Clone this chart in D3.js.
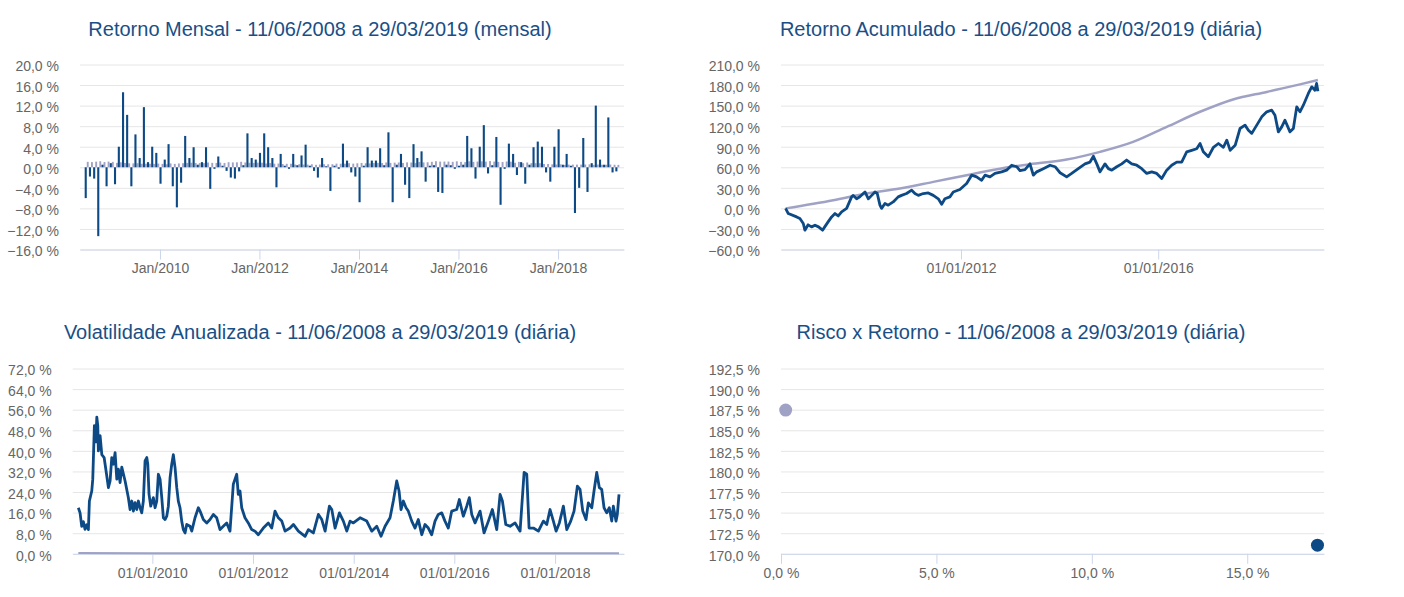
<!DOCTYPE html>
<html>
<head>
<meta charset="utf-8">
<script src="https://cdn.jsdelivr.net/npm/d3@7/dist/d3.min.js"></script>
<style>
  body { margin: 0; background: #ffffff; }
  svg { display: block; }
</style>
</head>
<body>
<svg id="chart" width="1404" height="597"></svg>
<script>
// ---------- Titles ----------
const titles = [
  "Retorno Mensal - 11/06/2008 a 29/03/2019 (mensal)",
  "Retorno Acumulado - 11/06/2008 a 29/03/2019 (diária)",
  "Volatilidade Anualizada - 11/06/2008 a 29/03/2019 (diária)",
  "Risco x Retorno - 11/06/2008 a 29/03/2019 (diária)"
];

// ---------- Monthly returns (%), Jul/2008 .. Mar/2019 ----------
const firstMonth = "2008-07-01";
const fundMonthly = [
  -6.0, -1.8, -2.2, -13.4, 0.5, -3.7,
  0.8, -3.3, 4.0, 14.6, 10.2, -3.7, 6.4, 1.8, 11.7, 1.0, 4.0, 2.8,
  -3.2, 1.5, 4.5, -3.7, -7.8, -3.0, 6.1, 1.8, 3.9, 0.5, 1.0, 3.9,
  -4.2, -0.3, 2.1, 0.3, -0.7, -2.0, -2.2, -0.8, 0.4, 6.6, 1.8, 1.5,
  2.8, 6.6, 3.9, 1.8, -3.9, 2.6, 0.3, -0.3, 2.6, 0.4, 2.3, 4.4,
  0.3, -0.7, -2.0, 1.8, 0.2, -4.6, 0.3, -0.3, 4.6, 1.3, -1.0, -1.8,
  -6.8, 0.3, 3.9, 1.3, 1.3, 3.7, 0.4, 6.8, -6.8, 0.5, 2.6, -3.4,
  -6.0, 4.5, 1.8, 3.1, -2.8, 0.3, 0.4, -4.8, -5.0, 0.5, 0.4, -0.3,
  0.3, 0.5, 6.1, 3.7, -2.2, 4.0, 8.2, -1.2, 0.4, 5.9, -7.3, -0.3,
  4.6, 2.6, -1.5, 1.0, -3.2, 0.5, 3.9, 5.0, 4.0, -1.0, -2.8, 4.0,
  7.4, 0.5, 2.6, 0.3, -8.9, -4.0, 5.7, -4.8, 0.8, 12.0, 1.5, 0.5,
  9.7, -1.0, -0.8
];
const benchMonthly = [
  1.06, 1.01, 1.10, 1.17, 1.01, 1.11,
  1.05, 0.86, 0.97, 0.84, 0.77, 0.76, 0.79, 0.69, 0.69, 0.69, 0.66, 0.72,
  0.66, 0.59, 0.76, 0.66, 0.75, 0.79, 0.86, 0.89, 0.84, 0.81, 0.81, 0.93,
  0.86, 0.84, 0.92, 0.84, 0.99, 0.95, 0.97, 1.07, 0.94, 0.88, 0.86, 0.91,
  0.89, 0.74, 0.81, 0.70, 0.73, 0.64, 0.68, 0.69, 0.54, 0.61, 0.54, 0.53,
  0.59, 0.48, 0.54, 0.60, 0.58, 0.59, 0.71, 0.69, 0.70, 0.80, 0.71, 0.78,
  0.84, 0.78, 0.76, 0.82, 0.86, 0.82, 0.94, 0.86, 0.90, 0.94, 0.84, 0.96,
  0.93, 0.82, 1.04, 0.95, 0.98, 1.06, 1.18, 1.11, 1.11, 1.11, 1.06, 1.16,
  1.05, 1.00, 1.16, 1.05, 1.11, 1.16, 1.11, 1.21, 1.11, 1.05, 1.04, 1.12,
  1.09, 0.87, 1.05, 0.79, 0.93, 0.81, 0.80, 0.80, 0.64, 0.64, 0.57, 0.54,
  0.58, 0.47, 0.53, 0.52, 0.52, 0.52, 0.54, 0.57, 0.47, 0.54, 0.49, 0.49,
  0.54, 0.49, 0.47
];
const monthlyTicksY = [-16, -12, -8, -4, 0, 4, 8, 12, 16, 20];
const monthlyTicksX = ["2010-01-01", "2012-01-01", "2014-01-01", "2016-01-01", "2018-01-01"];

// ---------- Cumulative return (%) ----------
const cumFundDates = [
  "2008-06-11","2008-07-01","2008-09-01","2008-09-25","2008-10-20","2008-11-01","2008-11-25","2008-12-20",
  "2009-01-15","2009-02-10","2009-03-12","2009-03-28","2009-04-22","2009-05-18","2009-06-12","2009-07-06","2009-07-31","2009-09-06","2009-10-13","2009-10-25","2009-11-19","2009-12-13",
  "2010-01-07","2010-01-20","2010-02-14","2010-03-11","2010-04-04","2010-04-21","2010-05-11","2010-05-23","2010-06-17","2010-07-11","2010-08-17","2010-09-23","2010-10-18","2010-11-24",
  "2011-01-01","2011-01-25","2011-02-19","2011-03-28","2011-05-04","2011-06-10","2011-07-17","2011-08-11","2011-09-04","2011-10-11","2011-11-05","2011-12-24",
  "2012-02-12","2012-03-20","2012-04-26","2012-06-02","2012-06-27","2012-08-03","2012-09-09","2012-10-28","2012-12-04",
  "2013-01-11","2013-02-17","2013-03-13","2013-04-19","2013-05-26","2013-06-20","2013-07-15","2013-09-02","2013-10-22","2013-11-28",
  "2014-01-04","2014-02-22","2014-03-31","2014-05-19","2014-07-08","2014-08-14","2014-09-08","2014-10-03","2014-10-27","2014-12-03","2014-12-28",
  "2015-01-22","2015-02-28","2015-04-06","2015-05-12","2015-06-19","2015-07-26","2015-09-01","2015-10-08","2015-11-14","2015-12-21",
  "2016-01-27","2016-03-04","2016-04-10","2016-05-17","2016-06-23","2016-07-30","2016-09-05","2016-10-12","2016-11-06","2016-11-30",
  "2017-01-06","2017-02-13","2017-03-22","2017-04-28","2017-05-23","2017-06-17","2017-07-24","2017-08-29","2017-10-05","2017-10-30","2017-11-24","2017-12-31",
  "2018-02-06","2018-03-15","2018-04-21","2018-05-15","2018-06-09","2018-07-04","2018-07-28","2018-09-03","2018-09-28","2018-10-23","2018-11-16","2018-12-11",
  "2019-01-17","2019-02-11","2019-03-07","2019-03-19","2019-03-29"
];
const cumFund = [
  0, -7.5, -12.4, -14.8, -22, -31.8, -24, -27,
  -24.6, -27, -31.8, -27, -19.7, -12.4, -7.5, -11, -5, 0, 16.8, 19, 14, 17,
  21.7, 24, 14, 19, 24, 21.7, 4.7, 0, 7.1, 4.7, 9.4, 16.8, 19, 21.7,
  26.6, 21.7, 19, 21.7, 22.6, 19, 14, 5.9, 14, 16.8, 24, 27.6,
  36.3, 48.5, 46, 41, 48.5, 46, 51, 53.3, 55.8,
  63, 60.8, 55, 56.6, 65, 48.5, 53.3, 58, 63, 60.8,
  52, 46, 51, 58, 65, 67.6, 76, 65, 53.3, 65, 58,
  55.8, 60.8, 65, 70.6, 65, 63, 58, 51, 53.3, 51,
  43.6, 55.8, 63, 67.6, 67.6, 82.5, 84.7, 87, 94.7, 82.5,
  75.2, 89.2, 94.7, 89.2, 99.6, 84.7, 92, 116.6, 121.5, 114, 109.5, 121.5,
  133.6, 140.9, 143.3, 136, 111.7, 119, 128.7, 111.7, 116.6, 148.2, 141, 150.6,
  167.7, 177.4, 172.5, 182.3, 171
];
const cumBenchDates = [
  "2008-06-11","2009-05-30","2010-02-01","2010-10-05","2011-06-10","2012-02-12","2012-10-16","2013-05-26",
  "2014-02-22","2014-10-27","2015-06-29","2016-03-04","2016-11-06","2017-07-08","2018-03-15","2018-11-16","2019-03-29"
];
const cumBench = [0, 12, 21.7, 29, 38.7, 48.5, 58, 64.5, 71.4, 82.5, 97, 119, 141, 159, 170, 181, 187.5];
const cumTicksY = [-60, -30, 0, 30, 60, 90, 120, 150, 180, 210];
const cumTicksX = ["2012-01-01", "2016-01-01"];

// ---------- Annualised volatility (%), dates as fractional years ----------
const volYears = [
  2008.530, 2008.564, 2008.597, 2008.629, 2008.663, 2008.697, 2008.729, 2008.749, 2008.796, 2008.816,
  2008.848, 2008.876, 2008.896, 2008.915, 2008.927, 2008.961, 2008.995,
  2009.041, 2009.080, 2009.126, 2009.160, 2009.193, 2009.225, 2009.259, 2009.293, 2009.325, 2009.358,
  2009.392, 2009.458, 2009.523, 2009.557, 2009.591, 2009.623, 2009.656, 2009.690, 2009.722, 2009.756,
  2009.789, 2009.821, 2009.855, 2009.889, 2009.909, 2009.934, 2009.968,
  2010.020, 2010.054, 2010.087, 2010.119, 2010.153, 2010.187, 2010.219, 2010.252, 2010.286, 2010.318,
  2010.352, 2010.385, 2010.417, 2010.451, 2010.485, 2010.516, 2010.550, 2010.584, 2010.616, 2010.650,
  2010.683, 2010.749, 2010.783, 2010.848, 2010.914, 2010.948,
  2011.013, 2011.081, 2011.146, 2011.212, 2011.279, 2011.345, 2011.410, 2011.478, 2011.543, 2011.609,
  2011.677, 2011.708, 2011.742, 2011.776, 2011.841, 2011.907, 2011.975,
  2012.040, 2012.106, 2012.205, 2012.304, 2012.372, 2012.437, 2012.503, 2012.571, 2012.636, 2012.735,
  2012.801, 2012.900,
  2013.033, 2013.099, 2013.198, 2013.298, 2013.365, 2013.431, 2013.516, 2013.564, 2013.629, 2013.715,
  2013.794, 2013.862, 2013.927, 2013.993,
  2014.126, 2014.259, 2014.358, 2014.458, 2014.543, 2014.623, 2014.722, 2014.787, 2014.855, 2014.901,
  2014.940, 2014.986,
  2015.040, 2015.085, 2015.153, 2015.219, 2015.284, 2015.352, 2015.417, 2015.483, 2015.550, 2015.616,
  2015.681, 2015.749, 2015.814, 2015.880, 2015.948,
  2016.047, 2016.099, 2016.178, 2016.246, 2016.297, 2016.345, 2016.411, 2016.510, 2016.589, 2016.675,
  2016.754, 2016.841, 2016.907, 2016.953,
  2017.020, 2017.106, 2017.205, 2017.304, 2017.384, 2017.437, 2017.483, 2017.569, 2017.668, 2017.767,
  2017.835, 2017.900, 2017.966,
  2018.020, 2018.085, 2018.165, 2018.232, 2018.311, 2018.377, 2018.443, 2018.496, 2018.550, 2018.615,
  2018.661, 2018.729, 2018.774, 2018.828, 2018.880, 2018.927, 2018.973,
  2019.027, 2019.078, 2019.126, 2019.158, 2019.211, 2019.237, 2019.271
];
const volFund = [
  17.9, 15.9, 10.7, 12.5, 9.5, 11.3, 9.4, 20.5, 24.4, 29,
  49.8, 43.5, 53.1, 49.8, 40, 45.9, 38.5,
  37.4, 32.2, 25.7, 28.3, 37.4, 34.8, 39.3, 29, 32.9, 27.7,
  33.7, 28.3, 21.8, 17.2, 20.5, 16.6, 19.9, 17.2, 20.5, 17.9,
  15.9, 20.5, 36.1, 37.4, 34.8, 23.1, 18.5,
  21.8, 17.9, 20.5, 30.9, 29, 21.8, 14, 13.3, 14.6, 18.5,
  29.6, 34.8, 38.5, 33.5, 25.7, 20.5, 17.9, 12.6, 9.4, 8.1,
  11.4, 10.7, 8.8, 14, 17.9, 16.6,
  13.3, 12, 13.3, 15.3, 14, 9.4, 10.7, 12, 8.8, 27,
  30.9, 23.1, 24.4, 17.9, 14, 12, 9.4,
  8.8, 7.4, 10, 12, 10, 16.6, 14, 12.7, 8.8, 10,
  11.4, 8.8,
  6.8, 9.4, 8.1, 15.3, 13.3, 8.8, 18.5, 17.2, 10, 15.9,
  12.7, 8.8, 12.7, 12,
  14, 12.7, 8.8, 10.7, 6.8, 10.7, 14, 20.5, 28.3, 24.4,
  17.2, 20.5,
  17.9, 16.6, 12.7, 10, 13.3, 7.4, 11.4, 10, 7.4, 12.7,
  15.3, 15.9, 12.7, 10, 16.6,
  17.2, 21.1, 14.6, 18.5, 21.8, 15.3, 12, 16.6, 8.1, 12.7,
  17.2, 9.4, 23.1, 20.5,
  11.4, 10.7, 12, 8.8, 31.6, 30.9, 10, 10, 8.8, 12.7,
  11.4, 17.2, 12.7,
  8.8, 12, 18.5, 9.4, 12.7, 16.6, 26.3, 25, 16.6, 13.3,
  19.8, 17.9, 24.4, 31.6, 25.7, 25, 17.9,
  15.9, 17.9, 12.7, 18.5, 12.7, 15.3, 23.1
];
const volBenchYears = [2008.530, 2010.0, 2012.0, 2014.0, 2016.0, 2018.0, 2019.271];
const volBench = [0.3, 0.2, 0.2, 0.2, 0.2, 0.2, 0.2];
const volTicksY = [0, 8, 16, 24, 32, 40, 48, 56, 64, 72];
const volTicksX = ["2010-01-01", "2012-01-01", "2014-01-01", "2016-01-01", "2018-01-01"];

// ---------- Risk x return ----------
const riskVol = [17.26, 0.15];     // annualised volatility (%)
const riskRet = [171.05, 187.45];  // cumulative return (%)
const riskTicksY = [170, 172.5, 175, 177.5, 180, 182.5, 185, 187.5, 190, 192.5];
const riskTicksX = [0, 5, 10, 15];

// ---------- Style ----------
const FONT = '"Liberation Sans", Arial, Helvetica, sans-serif';
const FUND = "#0d4a85";
const BENCH = "#a0a2c5";
const GRID = "#e6e6e6";
const AXIS = "#ccd6eb";
const LABEL = "#666666";
const TITLE = "#1a4f86";

const svg = d3.select("#chart").attr("font-family", FONT);
const parseDay = d3.timeParse("%Y-%m-%d");
const fmtPct = v => d3.format(".1f")(v).replace(".", ",") + " %";
const fmtMonYear = d3.timeFormat("Jan/%Y");
const fmtDay = d3.timeFormat("%d/%m/%Y");
function fromYear(y) {
  const yr = Math.floor(y);
  const s = new Date(yr, 0, 1), e = new Date(yr + 1, 0, 1);
  return new Date(+s + (y - yr) * (e - s));
}

function yAxis(g, y, ticks, left, right) {
  g.append("g")
    .attr("transform", `translate(${left},0)`)
    .call(d3.axisLeft(y).tickValues(ticks).tickSize(-(right - left)).tickPadding(21).tickFormat(fmtPct))
    .attr("font-family", FONT).attr("font-size", 14)
    .call(a => a.select(".domain").remove())
    .call(a => a.selectAll(".tick line").attr("stroke", GRID))
    .call(a => a.selectAll(".tick text").attr("fill", LABEL).attr("dy", "0.45em"));
}
function xAxis(g, x, ticks, fmt, bottom) {
  g.append("g")
    .attr("transform", `translate(0,${bottom})`)
    .call(d3.axisBottom(x).tickValues(ticks).tickSize(10).tickSizeOuter(0).tickPadding(4).tickFormat(fmt))
    .attr("font-family", FONT).attr("font-size", 14)
    .call(a => a.select(".domain").attr("stroke", AXIS))
    .call(a => a.selectAll(".tick line").attr("stroke", AXIS))
    .call(a => a.selectAll(".tick text").attr("fill", LABEL));
}
function title(text, cx, y) {
  svg.append("text").attr("x", cx).attr("y", y).attr("text-anchor", "middle")
    .attr("font-size", 20).attr("fill", TITLE).text(text);
}

// ---------- Panel 1: monthly returns ----------
{
  const L = 80, R = 624, T = 64.5, B = 249.5;
  const g = svg.append("g");
  const x = d3.scaleTime().domain([parseDay("2008-05-24"), parseDay("2019-04-30")]).range([L, R]);
  const y = d3.scaleLinear().domain([-16, 20]).range([B, T]);
  yAxis(g, y, monthlyTicksY, L, R);
  const m0 = parseDay(firstMonth);
  const months = fundMonthly.map((v, i) => ({ d: d3.timeMonth.offset(m0, i), f: v, b: benchMonthly[i] }));
  g.append("g").selectAll("rect").data(months).join("rect")
    .attr("x", d => x(d.d) + 1.6).attr("width", 1.9)
    .attr("y", d => Math.min(y(0), y(d.b))).attr("height", d => Math.abs(y(d.b) - y(0)))
    .attr("fill", BENCH);
  g.append("g").selectAll("rect").data(months).join("rect")
    .attr("x", d => x(d.d) - 0.5).attr("width", 2.1)
    .attr("y", d => Math.min(y(0), y(d.f))).attr("height", d => Math.abs(y(d.f) - y(0)))
    .attr("fill", FUND);
  xAxis(g, x, monthlyTicksX.map(parseDay), fmtMonYear, B);
  title(titles[0], 320, 36);
}

// ---------- Panel 2: cumulative return ----------
{
  const L = 781, R = 1324, T = 64.5, B = 249.5;
  const g = svg.append("g");
  const x = d3.scaleTime().domain([parseDay("2008-05-08"), parseDay("2019-05-13")]).range([L, R]);
  const y = d3.scaleLinear().domain([-60, 210]).range([B, T]);
  yAxis(g, y, cumTicksY, L, R);
  const bench = cumBenchDates.map((d, i) => [parseDay(d), cumBench[i]]);
  const fund = cumFundDates.map((d, i) => [parseDay(d), cumFund[i]]);
  g.append("path").datum(bench)
    .attr("d", d3.line().x(d => x(d[0])).y(d => y(d[1])).curve(d3.curveMonotoneX))
    .attr("fill", "none").attr("stroke", BENCH).attr("stroke-width", 2.5);
  g.append("path").datum(fund)
    .attr("d", d3.line().x(d => x(d[0])).y(d => y(d[1])))
    .attr("fill", "none").attr("stroke", FUND).attr("stroke-width", 2.8).attr("stroke-linejoin", "round");
  xAxis(g, x, cumTicksX.map(parseDay), fmtDay, B);
  title(titles[1], 1021, 36);
}

// ---------- Panel 3: annualised volatility ----------
{
  const L = 72.7, R = 624, T = 368.5, B = 553.8;
  const g = svg.append("g");
  const x = d3.scaleTime().domain([parseDay("2008-06-02"), parseDay("2019-05-16")]).range([L, R]);
  const y = d3.scaleLinear().domain([0, 72]).range([B, T]);
  yAxis(g, y, volTicksY, L, R);
  const fund = volYears.map((t, i) => [fromYear(t), volFund[i]]);
  const bench = volBenchYears.map((t, i) => [fromYear(t), volBench[i]]);
  xAxis(g, x, volTicksX.map(parseDay), fmtDay, B);
  g.append("path").datum(bench)
    .attr("d", d3.line().x(d => x(d[0])).y(d => y(d[1])))
    .attr("fill", "none").attr("stroke", BENCH).attr("stroke-width", 2);
  g.append("path").datum(fund)
    .attr("d", d3.line().x(d => x(d[0])).y(d => y(d[1])))
    .attr("fill", "none").attr("stroke", FUND).attr("stroke-width", 2.8).attr("stroke-linejoin", "round");
  title(titles[2], 320, 339);
}

// ---------- Panel 4: risk x return ----------
{
  const L = 781, R = 1324, T = 368.5, B = 553.8;
  const g = svg.append("g");
  const x = d3.scaleLinear().domain([0, 17.47]).range([L, R]);
  const y = d3.scaleLinear().domain([170, 192.5]).range([B, T]);
  yAxis(g, y, riskTicksY, L, R);
  xAxis(g, x, riskTicksX, fmtPct, B);
  const pts = riskVol.map((v, i) => ({ v, r: riskRet[i], c: i === 0 ? FUND : BENCH }));
  g.append("g").selectAll("circle").data(pts).join("circle")
    .attr("cx", d => x(d.v)).attr("cy", d => y(d.r)).attr("r", 6.5)
    .attr("fill", d => d.c);
  title(titles[3], 1021, 339);
}
</script>
</body>
</html>
